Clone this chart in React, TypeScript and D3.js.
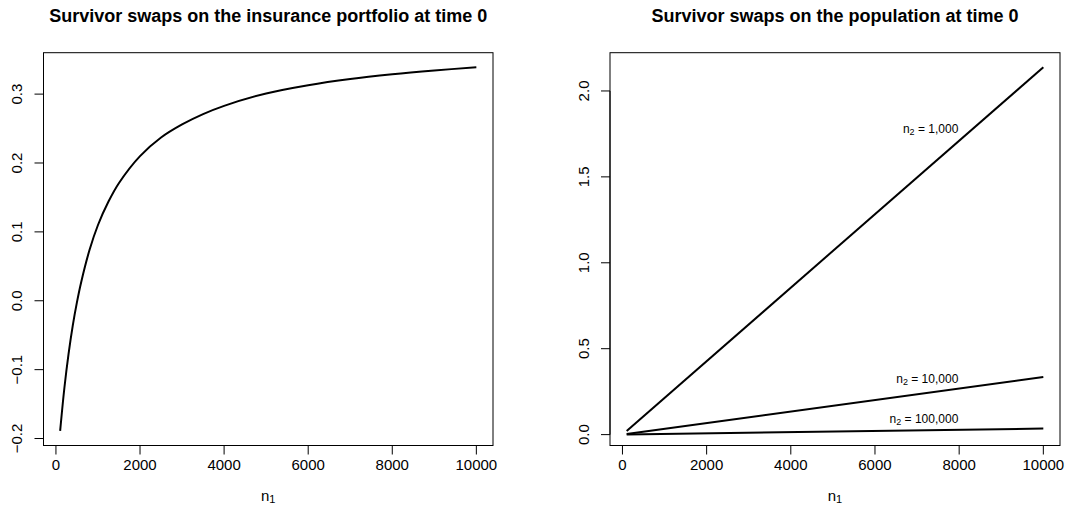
import React from "react";
import * as d3 from "d3";

// ---- data ----
const portfolioN1 = [100, 200, 300, 400, 500, 600, 800, 1000, 1250, 1500, 2000, 2500, 3000, 3500, 4000, 5000, 6000, 7000, 8000, 9000, 10000];
const portfolioSwap = [-0.189, -0.127, -0.077, -0.036, -0.002, 0.027, 0.074, 0.110, 0.144, 0.171, 0.210, 0.237, 0.256, 0.271, 0.283, 0.301, 0.313, 0.322, 0.3288, 0.3343, 0.339];

const populationN1 = [100, 10000];
const popSwapN2_1000 = [0.0213, 2.138];
const popSwapN2_10000 = [0.0034, 0.335];
const popSwapN2_100000 = [0.0003, 0.035];
const popSeries = [popSwapN2_1000, popSwapN2_10000, popSwapN2_100000];
const popLabelText = ["1,000", "10,000", "100,000"];
const popLabelX = 7980;
const popLabelY = [1.778, 0.323, 0.091];

const xTicks = [0, 2000, 4000, 6000, 8000, 10000];
const leftYTicks = [-0.2, -0.1, 0.0, 0.1, 0.2, 0.3];
const rightYTicks = [0, 0.5, 1.0, 1.5, 2.0];

const leftTitle = "Survivor swaps on the insurance portfolio at time 0";
const rightTitle = "Survivor swaps on the population at time 0";

const W = 1068;
const H = 525;
const FONT = "'Liberation Sans', Arial, Helvetica, sans-serif";
const BOX_TOP = 52.7;
const BOX_BOTTOM = 445.5;

function padded(ext: [number, number]): [number, number] {
  const r = ext[1] - ext[0];
  return [ext[0] - 0.04 * r, ext[1] + 0.04 * r];
}

type PanelProps = {
  left: number;
  right: number;
  title: string;
  yDomainData: number[];
  yTicks: number[];
  children: (x: d3.ScaleLinear<number, number>, y: d3.ScaleLinear<number, number>) => React.ReactNode;
};

function Panel({ left, right, title, yDomainData, yTicks, children }: PanelProps) {
  const xExt = d3.extent(portfolioN1.concat(populationN1)) as [number, number];
  const x = d3.scaleLinear().domain(padded(xExt)).range([left, right]);
  const y = d3.scaleLinear().domain(padded(d3.extent(yDomainData) as [number, number])).range([BOX_BOTTOM, BOX_TOP]);
  const fmt = d3.format(".1f");
  const tickLen = 9;
  const cx = (left + right) / 2;
  return (
    <g>
      <text x={cx} y={16} textAnchor="middle" dominantBaseline="central" fontFamily={FONT} fontWeight="bold" fontSize={18}>
        {title}
      </text>
      <rect x={left} y={BOX_TOP} width={right - left} height={BOX_BOTTOM - BOX_TOP} fill="none" stroke="#000" strokeWidth={1} />
      {/* x axis */}
      <line x1={x(xTicks[0])} x2={x(xTicks[xTicks.length - 1])} y1={BOX_BOTTOM} y2={BOX_BOTTOM} stroke="#000" />
      {xTicks.map((t) => (
        <g key={"x" + t}>
          <line x1={x(t)} x2={x(t)} y1={BOX_BOTTOM} y2={BOX_BOTTOM + tickLen} stroke="#000" />
          <text x={x(t)} y={464} textAnchor="middle" dominantBaseline="central" fontFamily={FONT} fontSize={15}>
            {String(t)}
          </text>
        </g>
      ))}
      <text x={cx} y={495} textAnchor="middle" dominantBaseline="central" fontFamily={FONT} fontSize={15}>
        n<tspan fontSize={11} dy={4}>1</tspan>
      </text>
      {/* y axis */}
      <line x1={left} x2={left} y1={y(yTicks[0])} y2={y(yTicks[yTicks.length - 1])} stroke="#000" />
      {yTicks.map((t) => (
        <g key={"y" + t}>
          <line x1={left} x2={left - tickLen} y1={y(t)} y2={y(t)} stroke="#000" />
          <text
            transform={`translate(${left - 27},${y(t)}) rotate(-90)`}
            textAnchor="middle"
            dominantBaseline="central"
            fontFamily={FONT}
            fontSize={15}
          >
            {fmt(t)}
          </text>
        </g>
      ))}
      <clipPath id={"clip" + left}>
        <rect x={left} y={BOX_TOP} width={right - left} height={BOX_BOTTOM - BOX_TOP} />
      </clipPath>
      <g clipPath={`url(#clip${left})`}>{children(x, y)}</g>
    </g>
  );
}

export default function App() {
  const lineGen = (x: d3.ScaleLinear<number, number>, y: d3.ScaleLinear<number, number>, xs: number[], curve: d3.CurveFactory = d3.curveLinear) =>
    d3
      .line<number>()
      .x((_, i) => x(xs[i]))
      .y((d) => y(d))
      .curve(curve);

  return (
    <svg width={W} height={H} style={{ position: "absolute", left: 0, top: 0, background: "#fff" }}>
      <rect x={0} y={0} width={W} height={H} fill="#fff" />
      <Panel left={43.5} right={493} title={leftTitle} yDomainData={portfolioSwap} yTicks={leftYTicks}>
        {(x, y) => (
          <path d={lineGen(x, y, portfolioN1, d3.curveCatmullRom)(portfolioSwap) || ""} fill="none" stroke="#000" strokeWidth={2} />
        )}
      </Panel>
      <Panel left={610} right={1060} title={rightTitle} yDomainData={popSwapN2_1000} yTicks={rightYTicks}>
        {(x, y) => (
          <g>
            {popSeries.map((s, i) => (
              <path key={i} d={lineGen(x, y, populationN1)(s) || ""} fill="none" stroke="#000" strokeWidth={2} />
            ))}
            {popLabelText.map((t, i) => (
              <text
                key={t}
                x={x(popLabelX)}
                y={y(popLabelY[i])}
                textAnchor="end"
                dominantBaseline="central"
                fontFamily={FONT}
                fontSize={12}
              >
                n<tspan fontSize={9} dy={3}>2</tspan>
                <tspan dy={-3}>{" = " + t}</tspan>
              </text>
            ))}
          </g>
        )}
      </Panel>
    </svg>
  );
}
